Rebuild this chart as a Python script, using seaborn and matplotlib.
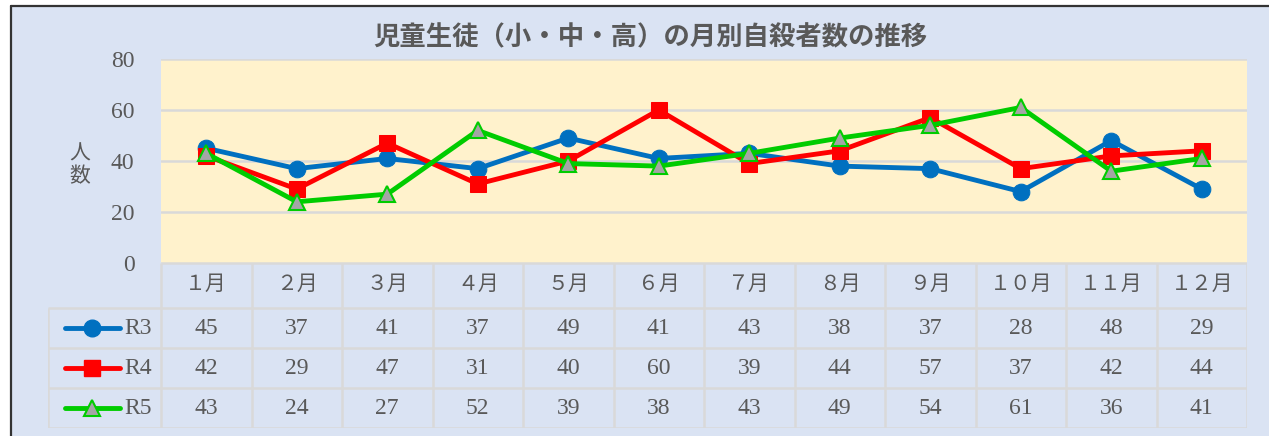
import matplotlib
matplotlib.use("Agg")
import matplotlib.pyplot as plt
from matplotlib.lines import Line2D
from matplotlib.patches import Rectangle
import pandas as pd
import seaborn as sns

W, H = 1269, 436

title = "児童生徒（小・中・高）の月別自殺者数の推移"
months = ["１月", "２月", "３月", "４月", "５月", "６月",
          "７月", "８月", "９月", "１０月", "１１月", "１２月"]
series_names = ["R3", "R4", "R5"]
r3 = [45, 37, 41, 37, 49, 41, 43, 38, 37, 28, 48, 29]
r4 = [42, 29, 47, 31, 40, 60, 39, 44, 57, 37, 42, 44]
r5 = [43, 24, 27, 52, 39, 38, 43, 49, 54, 61, 36, 41]
y_ticks = [0, 20, 40, 60, 80]

colors = {"R3": "#0070C0", "R4": "#FF0000", "R5": "#00CC00"}
styles = {
    "R3": dict(marker="o", markersize=12, markerfacecolor="#0070C0", markeredgecolor="#0070C0"),
    "R4": dict(marker="s", markersize=12, markerfacecolor="#FF0000", markeredgecolor="#FF0000"),
    "R5": dict(marker="^", markersize=12, markerfacecolor="#A5A5A5", markeredgecolor="#00CC00",
               markeredgewidth=1.5),
}

TEXT = "#595959"
GRID = "#D9D9D9"

sns.set_style("white")
plt.rcParams["font.family"] = ["Liberation Serif", "Noto Sans CJK JP", "DejaVu Sans"]

df = pd.DataFrame({"month": range(12), "R3": r3, "R4": r4, "R5": r5})
long_df = df.melt(id_vars="month", var_name="year", value_name="count")


def fx(px):
    return px / W


def fy(py):
    return 1 - py / H


fig = plt.figure(figsize=(W / 100, H / 100), dpi=100, facecolor="white")
fig.patches.append(Rectangle((fx(12), 0), 1 - fx(12), fy(7), transform=fig.transFigure,
                             facecolor="#DAE3F3", edgecolor="none", zorder=-10))
fig.lines.append(Line2D([fx(11), 1], [fy(6), fy(6)], transform=fig.transFigure,
                        color="#333333", lw=1.6, zorder=-5))
fig.lines.append(Line2D([fx(11), fx(11)], [0, fy(6)], transform=fig.transFigure,
                        color="#333333", lw=1.6, zorder=-5))

# chart area
left, right, top, bottom = 161, 1247, 59, 263
ax = fig.add_axes([fx(left), fy(bottom), fx(right - left), fy(top) - fy(bottom)])
ax.set_facecolor("#FFF2CC")
for name in series_names:
    sub = long_df[long_df["year"] == name]
    sns.lineplot(data=sub, x="month", y="count", ax=ax, color=colors[name],
                 linewidth=3.5, **styles[name])
ax.set_xlim(-0.5, 11.5)
ax.set_ylim(0, 80)
ax.set_yticks(y_ticks)
ax.set_xticks([])
ax.set_xlabel("")
ax.set_ylabel("")
ax.grid(axis="y", color=GRID, lw=1.8)
ax.set_axisbelow(True)
for s in ax.spines.values():
    s.set_visible(False)
ax.tick_params(axis="y", length=0, pad=19, labelsize=17, labelcolor=TEXT)

fig.text(fx(80), fy(165), "人\n数", ha="center", va="center", fontsize=15,
         color=TEXT, family=["Noto Sans CJK JP"], linespacing=1.05)
fig.text(fx(650), fy(38), title, ha="center", va="center", fontsize=19,
         fontweight="bold", color=TEXT, family=["Noto Sans CJK JP"])

# data table
tleft, tbottom = 48, 428
col_w = (right - left) / 12
x0 = -0.5 - (left - tleft) / col_w
tax = fig.add_axes([fx(tleft), fy(tbottom), fx(right - tleft), fy(bottom) - fy(tbottom)])
tax.set_xlim(x0, 11.5)
tax.set_ylim(tbottom - bottom, 0)
tax.axis("off")

row_edges = [45, 85, 125, 165]
tax.hlines(0, -0.5, 11.5, color=GRID, lw=1.8)
tax.hlines(row_edges, x0, 11.5, color=GRID, lw=1.8)
tax.vlines([i - 0.5 for i in range(13)], 0, 165, color=GRID, lw=1.8)
tax.vlines(x0, 45, 165, color=GRID, lw=1.8)

for i, m in enumerate(months):
    tax.text(i, 22.5, m, ha="center", va="center", fontsize=15, color=TEXT)

for r, (name, vals) in enumerate(zip(series_names, [r3, r4, r5])):
    yc = 65 + 40 * r
    for i, v in enumerate(vals):
        tax.text(i, yc, str(v), ha="center", va="center", fontsize=17, color=TEXT)
    lx = (65 - left) / col_w - 0.5
    rx = (120 - left) / col_w - 0.5
    tax.plot([lx, rx], [yc, yc], color=colors[name], lw=3.5, solid_capstyle="round")
    tax.plot([(lx + rx) / 2], [yc], linestyle="none", **styles[name])
    tax.text((124 - left) / col_w - 0.5, yc, name, ha="left", va="center",
             fontsize=17, color=TEXT)

fig.savefig("out.png", dpi=100, facecolor=fig.get_facecolor())
